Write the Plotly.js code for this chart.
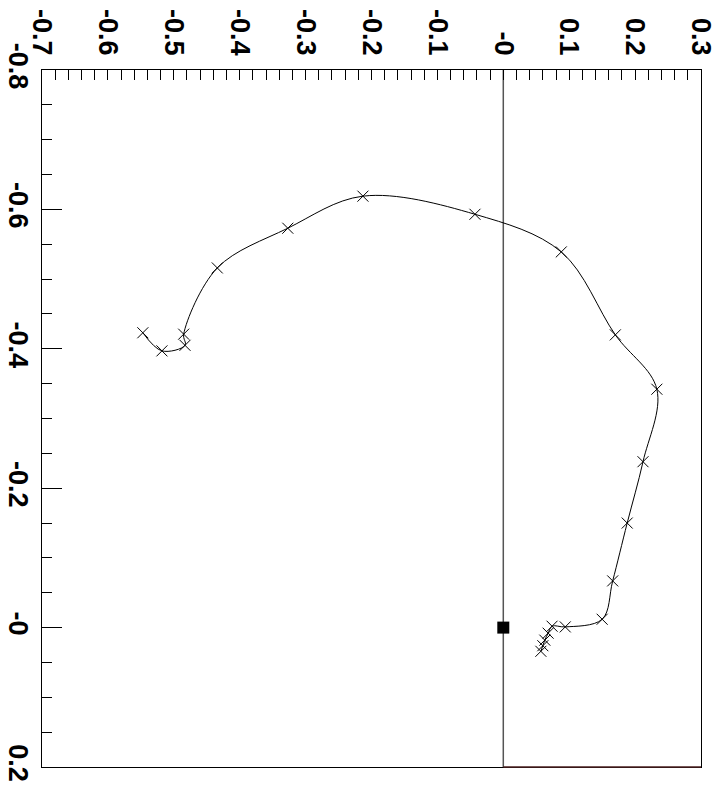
<!DOCTYPE html>
<html>
<head>
<meta charset="utf-8">
<script src="https://cdn.plot.ly/plotly-3.0.1.min.js"></script>
<style>html,body{margin:0;padding:0;background:#fff;}#chart{width:718px;height:791px;}</style>
</head>
<body>
<div id="chart"></div>
<script>
// Path (horizontal value, vertical value), in order along the curve
const pathH = [0.057, 0.060, 0.063, 0.068, 0.074, 0.094, 0.150, 0.166, 0.188, 0.212, 0.233, 0.170, 0.088, -0.043, -0.213, -0.327, -0.434, -0.485, -0.483, -0.518, -0.547];
const pathV = [0.034, 0.026, 0.018, 0.008, -0.002, -0.001, -0.012, -0.067, -0.150, -0.238, -0.342, -0.420, -0.539, -0.593, -0.619, -0.573, -0.516, -0.421, -0.405, -0.397, -0.423];

// Reference line and origin marker
const refLineH = [0, 0];
const refLineV = [-0.8, 0.2];
const originH = [0];
const originV = [0];

// Tick labels
const hTickVals = [-0.7, -0.6, -0.5, -0.4, -0.3, -0.2, -0.1, 0, 0.1, 0.2, 0.3];
const hTickText = ['-0.7', '-0.6', '-0.5', '-0.4', '-0.3', '-0.2', '-0.1', '-0', '0.1', '0.2', '0.3'];
const vTickVals = [-0.8, -0.6, -0.4, -0.2, 0, 0.2];
const vTickText = ['-0.8', '-0.6', '-0.4', '-0.2', '-0', '0.2'];

const font = {family: '"Liberation Sans", Arial, sans-serif', size: 27, color: '#000', weight: 'bold'};

const traces = [
  {x: refLineH, y: refLineV, mode: 'lines', line: {color: '#555', width: 1.5}, hoverinfo: 'skip', showlegend: false},
  {x: pathH, y: pathV, mode: 'lines', line: {color: '#000', width: 1, shape: 'spline', smoothing: 1}, showlegend: false},
  {x: pathH, y: pathV, mode: 'markers', marker: {symbol: 'x-thin', size: 11, color: '#000', line: {color: '#000', width: 1}}, showlegend: false},
  {x: originH, y: originV, mode: 'markers', marker: {symbol: 'square', size: 12, color: '#000'}, showlegend: false}
];

const layout = {
  width: 718, height: 791,
  margin: {l: 42, r: 17, t: 70, b: 24, pad: 0},
  paper_bgcolor: '#fff', plot_bgcolor: '#fff',
  showlegend: false,
  font: font,
  xaxis: {
    range: [-0.7, 0.3], side: 'top',
    tickmode: 'array', tickvals: hTickVals, ticktext: hTickText,
    tickangle: 90, tickfont: font, ticklabelstandoff: 4, ticklabeloverflow: 'allow',
    ticks: 'inside', ticklen: 10, tickwidth: 1, tickcolor: '#000',
    minor: {tickmode: 'linear', tick0: 0, dtick: 0.02, ticks: 'inside', ticklen: 10, tickwidth: 1, tickcolor: '#000', showgrid: false},
    showline: true, linecolor: '#000', linewidth: 1, mirror: true,
    showgrid: false, zeroline: false
  },
  yaxis: {
    range: [0.2, -0.8],
    tickmode: 'array', tickvals: vTickVals, ticktext: vTickText,
    tickangle: 90, tickfont: font, ticklabelstandoff: 0, ticklabeloverflow: 'allow',
    ticks: 'inside', ticklen: 20, tickwidth: 1, tickcolor: '#000',
    minor: {tickmode: 'linear', tick0: 0, dtick: 0.05, ticks: 'inside', ticklen: 10, tickwidth: 1, tickcolor: '#000', showgrid: false},
    showline: true, linecolor: '#000', linewidth: 1, mirror: true,
    showgrid: false, zeroline: false
  },
  shapes: [
    {type: 'line', xref: 'x', yref: 'paper', x0: 0, x1: 0.3, y0: 0, y1: 0, line: {color: '#4a1f1f', width: 1.5}}
  ]
};

Plotly.newPlot('chart', traces, layout, {displayModeBar: false, staticPlot: true});
</script>
</body>
</html>
